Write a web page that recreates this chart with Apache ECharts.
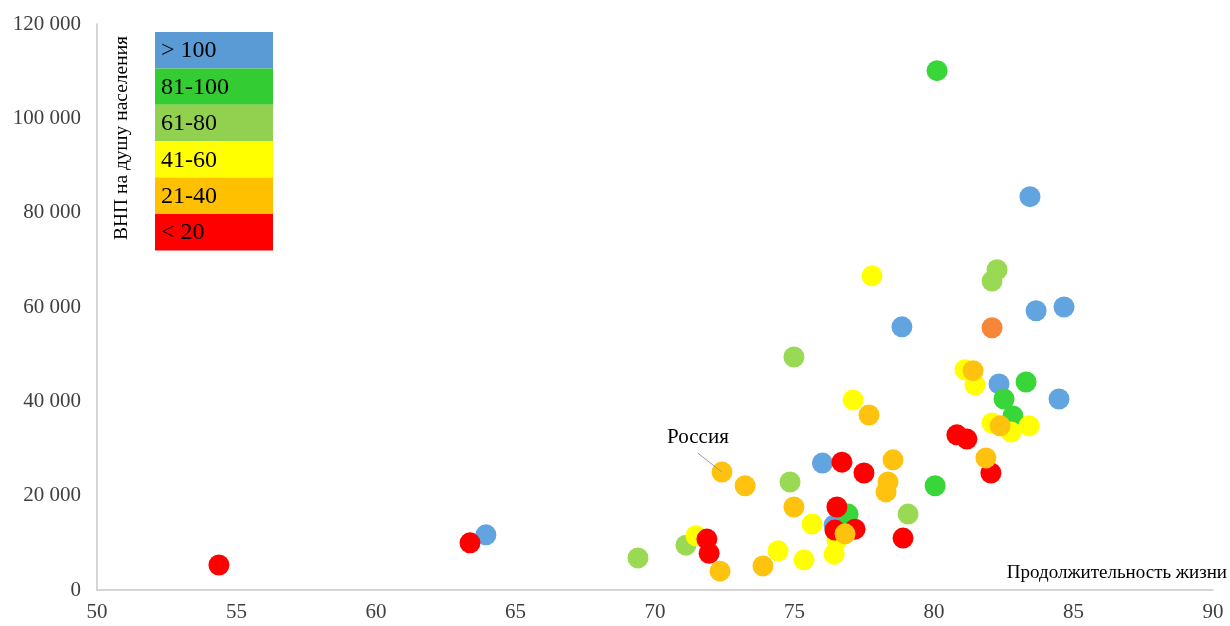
<!DOCTYPE html>
<html>
<head>
<meta charset="utf-8">
<script src="https://cdn.jsdelivr.net/npm/echarts@6/dist/echarts.min.js"></script>
<style>
  html, body { margin: 0; padding: 0; background: #fff; }
  #chart { width: 1230px; height: 626px; }
</style>
</head>
<body>
<div id="chart"></div>
<script>
// [life expectancy, GNP per capita]
const blue = [[63.94, 11700], [76.0, 26900], [76.42, 13800], [78.85, 55800], [82.33, 43700],
  [83.44, 83400], [83.66, 59200], [84.66, 60000], [84.48, 40500]];
const green = [[80.11, 110100], [83.3, 44100], [82.51, 40500], [82.83, 36900], [80.04, 22100], [76.92, 16100]];
const lightGreen = [[82.26, 67900], [82.08, 65500], [74.98, 49400], [74.84, 22900], [79.07, 16100],
  [71.11, 9500], [69.39, 6800]];
const yellow = [[77.78, 66600], [81.11, 46700], [81.47, 43500], [77.1, 40300], [82.08, 35400],
  [82.76, 33500], [83.41, 34800], [75.63, 14000], [76.52, 10600], [76.42, 7600], [74.41, 8300],
  [75.34, 6400], [71.47, 11500]];
const red = [[54.37, 5300], [63.37, 10000], [80.82, 32900], [81.18, 32000], [82.04, 24800],
  [76.7, 27100], [77.49, 24800], [76.52, 17600], [76.45, 12700], [77.17, 12900], [78.89, 11000],
  [71.86, 10800], [71.94, 7800]];
const orange = [[81.4, 46500], [77.67, 37100], [82.37, 34800], [81.86, 28000], [78.53, 27600],
  [78.35, 22900], [78.28, 20800], [73.23, 22100], [74.98, 17600], [76.81, 11900],
  [73.87, 5100], [72.33, 4000]];
const darkOrange = [[82.08, 55600]];
const russia = [72.4, 25000];

const legendLabels = ['> 100', '81-100', '61-80', '41-60', '21-40', '< 20'];
const legendColors = ['#5B9BD5', '#33CC33', '#92D050', '#FFFF00', '#FFC000', '#FF0000'];

const xTicks = { min: 50, max: 90, interval: 5 };
const yTicks = { min: 0, max: 120000, interval: 20000 };

const serif = '"Liberation Serif", "DejaVu Serif", serif';

const chart = echarts.init(document.getElementById('chart'));

function pts(name, data, color) {
  return {
    name: name,
    type: 'scatter',
    data: data,
    symbolSize: 21,
    itemStyle: { color: color, opacity: 1 },
  };
}

const bandH = 36.4;
const legendGraphics = [];
legendLabels.forEach((lab, i) => {
  legendGraphics.push({
    type: 'rect',
    left: 155,
    top: 32 + i * bandH,
    shape: { width: 118, height: bandH },
    style: { fill: legendColors[i] },
  });
  legendGraphics.push({
    type: 'text',
    x: 161,
    y: 32 + i * bandH + bandH / 2 + 1,
    style: { text: lab, font: '24px ' + serif, fill: '#000', textVerticalAlign: 'middle' },
  });
});

chart.setOption({
  animation: false,
  grid: { left: 97, right: 17, top: 24, bottom: 36 },
  xAxis: {
    type: 'value',
    min: xTicks.min, max: xTicks.max, interval: xTicks.interval,
    axisLine: { show: true, onZero: false, lineStyle: { color: '#c8c8c8', width: 1.5 } },
    axisTick: { show: false },
    splitLine: { show: false },
    axisLabel: { margin: 12, fontFamily: serif, fontSize: 21, color: '#404040' },
  },
  yAxis: {
    type: 'value',
    min: yTicks.min, max: yTicks.max, interval: yTicks.interval,
    axisLine: { show: true, lineStyle: { color: '#c8c8c8', width: 1.5 } },
    axisTick: { show: false },
    splitLine: { show: false },
    axisLabel: {
      margin: 16, fontFamily: serif, fontSize: 21, color: '#404040',
      formatter: v => String(v).replace(/\B(?=(\d{3})+(?!\d))/g, ' '),
    },
  },
  graphic: legendGraphics.concat([
    {
      type: 'text',
      x: 122, y: 138,
      rotation: Math.PI / 2,
      style: {
        text: 'ВНП на душу населения', font: '19.5px ' + serif, fill: '#000',
        textAlign: 'center', textVerticalAlign: 'middle',
      },
    },
    {
      type: 'text',
      right: 3, top: 564,
      style: { text: 'Продолжительность жизни', font: '19px ' + serif, fill: '#000' },
    },
  ]),
  series: [
    pts('> 100', blue, '#62A4DF'),
    pts('81-100', green, '#38D638'),
    pts('61-80', lightGreen, '#99D954'),
    pts('41-60', yellow, '#FFFF00'),
    pts('< 20', red, '#FF0000'),
    pts('21-40', orange, '#FFC20E'),
    pts('other', darkOrange, '#F7863A'),
    {
      name: 'Россия',
      type: 'scatter',
      data: [russia],
      symbolSize: 21,
      itemStyle: { color: '#FFC20E', opacity: 1 },
      label: {
        show: true, position: 'inside', formatter: 'Россия',
        fontFamily: serif, fontSize: 21, color: '#000',
      },
      labelLayout: { dx: -24, dy: -35 },
      markLine: {
        silent: true,
        symbol: 'none',
        label: { show: false },
        lineStyle: { color: '#9a9a9a', width: 1, type: 'solid' },
        data: [[
          { coord: [russia[0] - 0.86, russia[1] + 4000] },
          { coord: russia },
        ]],
      },
    },
  ],
});
</script>
</body>
</html>
